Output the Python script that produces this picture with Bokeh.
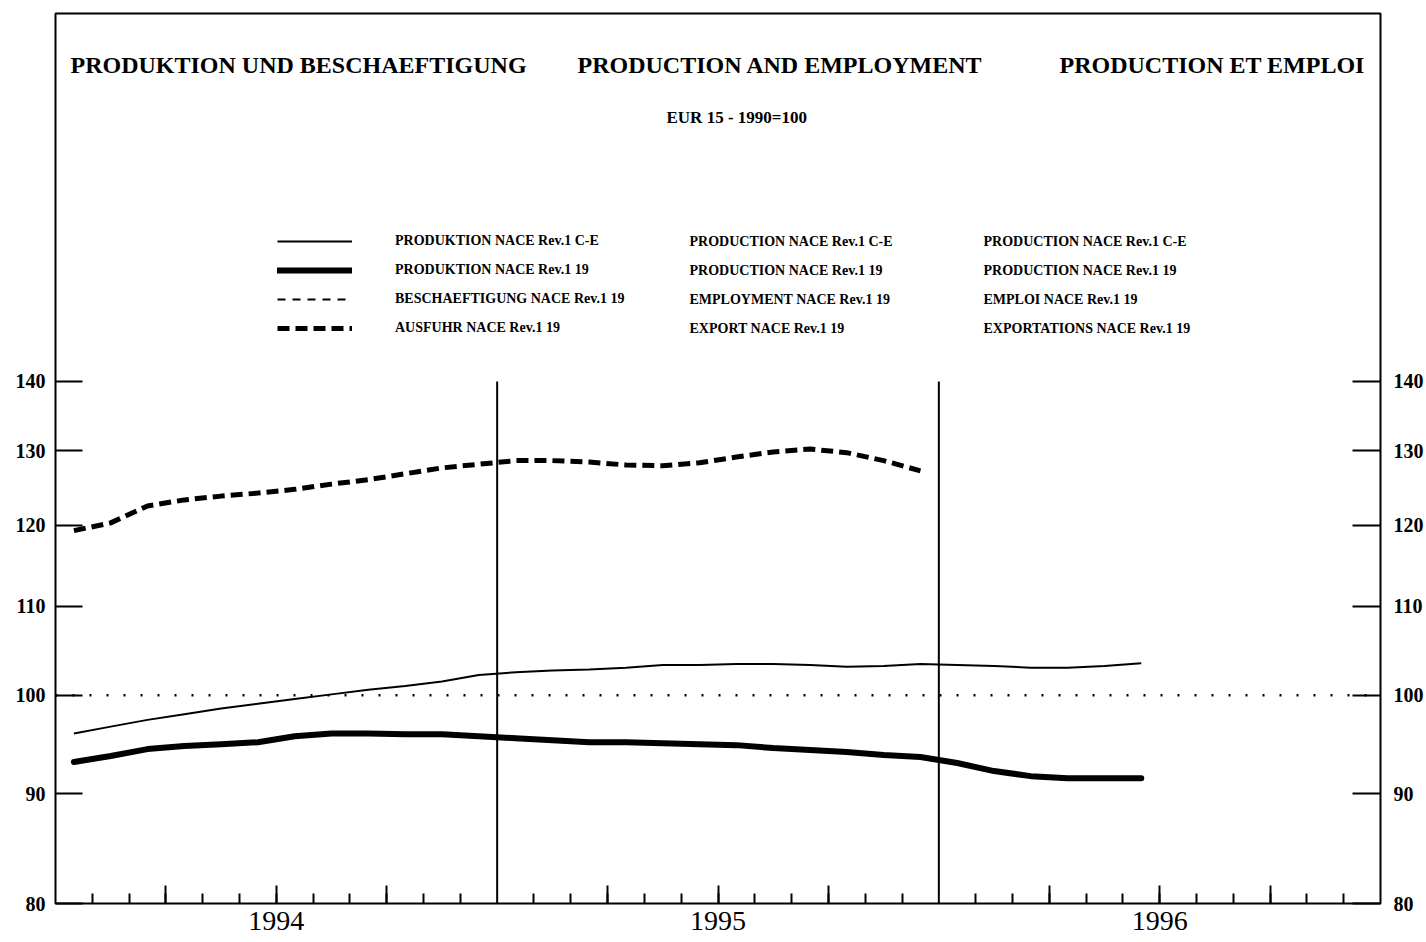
import numpy as np
from bokeh.plotting import figure
from bokeh.models import (Range1d, LogAxis, LinearAxis, FixedTicker, BasicTickFormatter,
                          Span, Label, Legend, LegendItem)
from bokeh.embed import file_html
from bokeh.resources import INLINE

# ---------------- data (monthly, EUR 15, 1990=100) ----------------
years = ["1994", "1995", "1996"]
# PRODUKTION NACE Rev.1 C-E, Jan 1994 .. Jun 1996
prod_ce = [96.0, 96.7, 97.4, 98.0, 98.6, 99.1, 99.6, 100.1, 100.6, 101.0, 101.5, 102.2,
           102.5, 102.7, 102.8, 103.0, 103.3, 103.3, 103.4, 103.4, 103.3, 103.1, 103.2, 103.4,
           103.3, 103.2, 103.0, 103.0, 103.2, 103.5]
# PRODUKTION NACE Rev.1 19, Jan 1994 .. Jun 1996
prod_19 = [93.1, 93.7, 94.4, 94.7, 94.9, 95.1, 95.7, 96.0, 96.0, 95.9, 95.9, 95.7,
           95.5, 95.3, 95.1, 95.1, 95.0, 94.9, 94.8, 94.5, 94.3, 94.1, 93.8, 93.6,
           93.0, 92.2, 91.7, 91.5, 91.5, 91.5]
# AUSFUHR NACE Rev.1 19, Jan 1994 .. Dec 1995
export_19 = [119.3, 120.3, 122.5, 123.3, 123.8, 124.2, 124.7, 125.4, 126.0, 126.8, 127.6, 128.1,
             128.6, 128.6, 128.4, 128.0, 127.9, 128.3, 129.1, 129.8, 130.2, 129.7, 128.6, 127.2]
# BESCHAEFTIGUNG NACE Rev.1 19 (listed in the legend, no values shown in the chart)
employment_19 = [float("nan")]

y_ticks = [80, 90, 100, 110, 120, 130, 140]
reference_level = 100
months_per_year = 12

legend_de = ["PRODUKTION NACE Rev.1 C-E", "PRODUKTION NACE Rev.1 19",
             "BESCHAEFTIGUNG NACE Rev.1 19", "AUSFUHR NACE Rev.1 19"]
legend_en = ["PRODUCTION NACE Rev.1 C-E", "PRODUCTION NACE Rev.1 19",
             "EMPLOYMENT NACE Rev.1 19", "EXPORT NACE Rev.1 19"]
legend_fr = ["PRODUCTION NACE Rev.1 C-E", "PRODUCTION NACE Rev.1 19",
             "EMPLOI NACE Rev.1 19", "EXPORTATIONS NACE Rev.1 19"]
titles = ["PRODUKTION UND BESCHAEFTIGUNG", "PRODUCTION AND EMPLOYMENT", "PRODUCTION ET EMPLOI"]
subtitle = "EUR 15 - 1990=100"

# ---------------- layout ----------------
FONT = "Liberation Serif"
FRAME_W, FRAME_H = 1325, 890
PX_PER_LN = 933.0
n_months = months_per_year * len(years)
y_top = y_ticks[0] * np.exp(FRAME_H / PX_PER_LN)

p = figure(frame_width=FRAME_W, frame_height=FRAME_H,
           x_range=Range1d(0, n_months), y_range=Range1d(y_ticks[0], y_top),
           y_axis_type="log", x_axis_location=None, y_axis_location=None,
           output_backend="svg", toolbar_location=None,
           min_border_left=55, min_border_right=46, min_border_top=13, min_border_bottom=39,
           background_fill_color="white", border_fill_color="white")
p.outline_line_color = "black"
p.outline_line_width = 2
for g in p.grid:
    g.visible = False

# y axes (left and right), ticks pointing inward
for side, standoff, tick_in in [("left", 10, 27), ("right", 13, 28)]:
    ax = LogAxis(ticker=FixedTicker(ticks=y_ticks), formatter=BasicTickFormatter())
    ax.axis_line_color = None
    ax.major_tick_in = tick_in
    ax.major_tick_out = 0
    ax.minor_tick_in = 0
    ax.minor_tick_out = 0
    ax.major_tick_line_width = 2
    ax.major_tick_line_color = "black"
    ax.major_label_standoff = standoff
    ax.major_label_text_font = FONT
    ax.major_label_text_font_style = "bold"
    ax.major_label_text_font_size = "20px"
    ax.major_label_text_color = "black"
    p.add_layout(ax, side)

# x axis: monthly minor ticks, quarterly major ticks, year labels
quarter_ticks = [m for m in range(3, n_months, 3) if m % months_per_year != 0]
month_ticks = [m for m in range(1, n_months) if m % months_per_year != 0]
xax = LinearAxis(ticker=FixedTicker(ticks=quarter_ticks, minor_ticks=month_ticks))
overrides = {m: "" for m in quarter_ticks}
for k, yr in enumerate(years):
    overrides[k * months_per_year + months_per_year // 2] = yr
xax.major_label_overrides = overrides
xax.axis_line_color = None
xax.major_tick_in = 18
xax.major_tick_out = 0
xax.minor_tick_in = 10
xax.minor_tick_out = 0
xax.major_tick_line_width = 2
xax.minor_tick_line_width = 2
xax.minor_tick_line_color = "black"
xax.major_label_standoff = 8
xax.major_label_text_font = FONT
xax.major_label_text_font_size = "28px"
xax.major_label_text_color = "black"
p.add_layout(xax, "below")

# year boundary lines
bounds = [k * months_per_year for k in range(1, len(years))]
p.segment(x0=bounds, x1=bounds, y0=[y_ticks[0]] * len(bounds), y1=[y_ticks[-1]] * len(bounds),
          line_color="black", line_width=2)

# 100 reference line
p.add_layout(Span(location=reference_level, dimension="width", line_color="black",
                  line_width=2.5, line_dash="2 15"))

# series
x_ce = [i + 0.5 for i in range(len(prod_ce))]
x_19 = [i + 0.5 for i in range(len(prod_19))]
x_ex = [i + 0.5 for i in range(len(export_19))]
x_em = [i + 0.5 for i in range(len(employment_19))]
r_ce = p.line(x_ce, prod_ce, line_color="black", line_width=2)
r_19 = p.line(x_19, prod_19, line_color="black", line_width=6, line_join="round", line_cap="round")
r_em = p.line(x_em, employment_19, line_color="black", line_width=2, line_dash="8 7")
r_ex = p.line(x_ex, export_19, line_color="black", line_width=5, line_dash="12 6")

legend = Legend(items=[LegendItem(label=t, renderers=[r]) for t, r in
                       zip(legend_de, [r_ce, r_19, r_em, r_ex])],
                location=(222, 565), glyph_width=75, glyph_height=20, label_height=20,
                spacing=9, label_standoff=43, padding=0, margin=0,
                border_line_color=None, background_fill_alpha=0,
                label_text_font=FONT, label_text_font_style="bold",
                label_text_font_size="14px", label_text_color="black")
p.add_layout(legend)

row_y = [662, 633, 604, 575]
for col_x, texts in [(634, legend_en), (928, legend_fr)]:
    for yy, t in zip(row_y, texts):
        p.add_layout(Label(x=col_x, y=yy, x_units="screen", y_units="screen", text=t,
                           text_font=FONT, text_font_style="bold", text_font_size="14px",
                           text_baseline="middle", text_align="left", text_color="black"))

for tx, t in zip([15, 522, 1004], titles):
    p.add_layout(Label(x=tx, y=839, x_units="screen", y_units="screen", text=t,
                       text_font=FONT, text_font_style="bold", text_font_size="24px",
                       text_baseline="middle", text_align="left", text_color="black"))
p.add_layout(Label(x=611, y=786, x_units="screen", y_units="screen", text=subtitle,
                   text_font=FONT, text_font_style="bold", text_font_size="17px",
                   text_baseline="middle", text_align="left", text_color="black"))

open("out.html", "w").write(file_html(p, INLINE))
